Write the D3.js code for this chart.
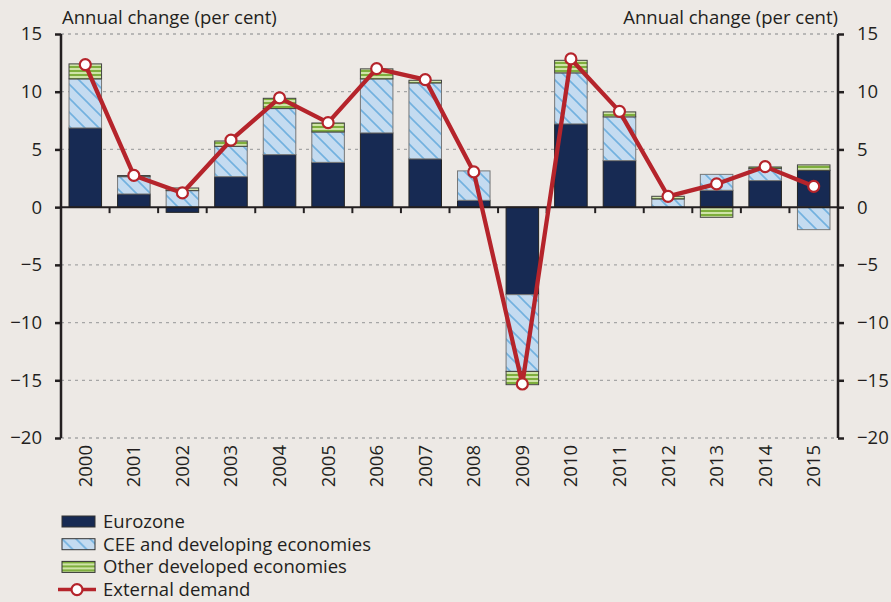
<!DOCTYPE html>
<html>
<head>
<meta charset="utf-8">
<script src="https://cdn.jsdelivr.net/npm/d3@7"></script>
<style>
  body { margin: 0; background: #ede9e5; }
  svg { display: block; font-family: 'Open Sans', sans-serif; }
</style>
</head>
<body>
<div id="chart"></div>
<script>
const years = ['2000', '2001', '2002', '2003', '2004', '2005', '2006', '2007',
  '2008', '2009', '2010', '2011', '2012', '2013', '2014', '2015'];
const eurozone = [6.86, 1.14, -0.45, 2.64, 4.55, 3.88, 6.43, 4.18, 0.59, -7.58, 7.21, 4.03, 0.0, 1.46, 2.3, 3.19];
const cee = [4.25, 1.5, 1.43, 2.63, 3.99, 2.63, 4.68, 6.58, 2.55, -6.65, 4.42, 3.79, 0.71, 1.38, 1.04, -1.95];
const otherDev = [1.3, 0.1, 0.23, 0.46, 0.89, 0.78, 0.87, 0.23, 0.0, -1.15, 1.09, 0.43, 0.23, -0.88, 0.14, 0.47];
const externalDemand = [12.35, 2.75, 1.23, 5.8, 9.46, 7.32, 12.0, 11.05, 3.05, -15.32, 12.84, 8.3, 0.94, 2.01, 3.51, 1.8];
const yTicks = [15, 10, 5, 0, -5, -10, -15, -20];
const seriesNames = ['Eurozone', 'CEE and developing economies', 'Other developed economies'];
const axisTitle = 'Annual change (per cent)';
const lineName = 'External demand';

const WIDTH = 891;
const HEIGHT = 602;
const margin = {top: 34, right: 53, bottom: 164, left: 61};
const width = WIDTH - margin.left - margin.right;
const height = HEIGHT - margin.top - margin.bottom;

const RED = '#b5242b';
const NAVY = '#172a53';
const TEXT = '#231f20';
const FONT_SIZE = 18.5;

const rows = years.map((y, i) => ({year: y, ez: eurozone[i], cee: cee[i], oth: otherDev[i]}));
const keys = ['ez', 'cee', 'oth'];

const svg = d3.select('#chart').append('svg')
  .attr('width', WIDTH)
  .attr('height', HEIGHT);

// patterns
const defs = svg.append('defs');
const pCee = defs.append('pattern')
  .attr('id', 'p-cee')
  .attr('patternUnits', 'userSpaceOnUse')
  .attr('width', 14).attr('height', 14);
pCee.append('rect').attr('width', 14).attr('height', 14).attr('fill', '#c4dbf0');
pCee.append('path')
  .attr('d', 'M-1,-1 L15,15 M-8,6 L1,15 M6,-8 L15,1')
  .attr('stroke', '#72b1df').attr('stroke-width', 1.6);

const pOth = defs.append('pattern')
  .attr('id', 'p-oth')
  .attr('patternUnits', 'userSpaceOnUse')
  .attr('width', 8).attr('height', 4);
pOth.append('rect').attr('width', 8).attr('height', 4).attr('fill', '#cfe3a8');
pOth.append('rect').attr('width', 8).attr('height', 2).attr('fill', '#7eae3d');

const fills = {ez: NAVY, cee: 'url(#p-cee)', oth: 'url(#p-oth)'};
const strokes = {ez: '#222', cee: '#777', oth: '#444'};

const g = svg.append('g')
  .attr('transform', `translate(${margin.left}, ${margin.top})`);

const x = d3.scaleBand()
  .domain(years)
  .range([0, width])
  .paddingInner(0.33)
  .paddingOuter(0.165);

const y = d3.scaleLinear()
  .domain([-20, 15])
  .range([height, 0]);

// gridlines
g.append('g')
  .selectAll('line')
  .data(yTicks.filter(d => d !== 0))
  .join('line')
  .attr('x1', 0).attr('x2', width)
  .attr('y1', d => y(d)).attr('y2', d => y(d))
  .attr('stroke', '#a6a6a6')
  .attr('stroke-width', 1.3)
  .attr('stroke-dasharray', '3,4');

// stacked bars
const stack = d3.stack().keys(keys).offset(d3.stackOffsetDiverging);
const stacked = stack(rows);

g.append('g')
  .selectAll('g')
  .data(stacked)
  .join('g')
  .attr('fill', d => fills[d.key])
  .attr('stroke', d => strokes[d.key])
  .selectAll('rect')
  .data(d => d.filter(p => p[1] !== p[0]))
  .join('rect')
  .attr('x', d => x(d.data.year))
  .attr('width', x.bandwidth())
  .attr('y', d => y(Math.max(d[0], d[1])))
  .attr('height', d => Math.abs(y(d[0]) - y(d[1])))
  .attr('stroke-width', 1);

// zero line with category ticks
g.append('line')
  .attr('x1', 0).attr('x2', width)
  .attr('y1', y(0)).attr('y2', y(0))
  .attr('stroke', '#231f20')
  .attr('stroke-width', 2);

const step = x.step();
g.append('g')
  .selectAll('line')
  .data(d3.range(1, years.length))
  .join('line')
  .attr('x1', d => d * step).attr('x2', d => d * step)
  .attr('y1', y(0)).attr('y2', y(0) + 6)
  .attr('stroke', '#231f20')
  .attr('stroke-width', 2);

// axes
const leftAxis = d3.axisLeft(y).tickValues(yTicks).tickSize(6).tickPadding(13);
const rightAxis = d3.axisRight(y).tickValues(yTicks).tickSize(6).tickPadding(13);

for (const [ax, xPos] of [[leftAxis, 0], [rightAxis, width]]) {
  const a = g.append('g')
    .attr('transform', `translate(${xPos}, 0)`)
    .call(ax);
  a.select('.domain').attr('stroke', TEXT).attr('stroke-width', 2.5)
    .attr('d', `M0,0V${height}`);
  a.selectAll('.tick line').attr('stroke', TEXT).attr('stroke-width', 2.5);
  a.selectAll('.tick text')
    .attr('fill', TEXT)
    .attr('font-size', FONT_SIZE)
    .attr('font-family', "'Open Sans', sans-serif");
}

// x labels
g.append('g')
  .selectAll('text')
  .data(years)
  .join('text')
  .attr('transform', d => `translate(${x(d) + x.bandwidth() / 2}, ${height + 7}) rotate(-90)`)
  .attr('text-anchor', 'end')
  .attr('dy', '0.35em')
  .attr('font-size', FONT_SIZE)
  .attr('fill', TEXT)
  .text(d => d);

// line + markers
const line = d3.line()
  .x((d, i) => x(years[i]) + x.bandwidth() / 2)
  .y(d => y(d));

g.append('path')
  .datum(externalDemand)
  .attr('fill', 'none')
  .attr('stroke', RED)
  .attr('stroke-width', 4.3)
  .attr('stroke-linejoin', 'round')
  .attr('d', line);

g.append('g')
  .selectAll('circle')
  .data(externalDemand)
  .join('circle')
  .attr('cx', (d, i) => x(years[i]) + x.bandwidth() / 2)
  .attr('cy', d => y(d))
  .attr('r', 5.5)
  .attr('fill', 'white')
  .attr('stroke', RED)
  .attr('stroke-width', 2.2);

// axis titles
svg.append('text')
  .attr('x', 62).attr('y', 24)
  .attr('font-size', FONT_SIZE)
  .attr('fill', TEXT)
  .text(axisTitle);

svg.append('text')
  .attr('x', 838).attr('y', 24)
  .attr('text-anchor', 'end')
  .attr('font-size', FONT_SIZE)
  .attr('fill', TEXT)
  .text(axisTitle);

// legend
const legend = svg.append('g').attr('transform', 'translate(62, 516)');
const legendRowH = 22.7;
seriesNames.forEach((name, i) => {
  const row = legend.append('g').attr('transform', `translate(0, ${i * legendRowH})`);
  row.append('rect')
    .attr('width', 33).attr('height', 11)
    .attr('fill', fills[keys[i]])
    .attr('stroke', '#333')
    .attr('stroke-width', 1);
  row.append('text')
    .attr('x', 41).attr('y', 5.5)
    .attr('dy', '0.35em')
    .attr('font-size', FONT_SIZE)
    .attr('fill', TEXT)
    .text(name);
});
const lineRow = legend.append('g').attr('transform', `translate(0, ${3 * legendRowH})`);
lineRow.append('line')
  .attr('x1', -4).attr('x2', 34)
  .attr('y1', 5.5).attr('y2', 5.5)
  .attr('stroke', RED).attr('stroke-width', 3.5);
lineRow.append('circle')
  .attr('cx', 15).attr('cy', 5.5).attr('r', 5.5)
  .attr('fill', 'white').attr('stroke', RED).attr('stroke-width', 2.2);
lineRow.append('text')
  .attr('x', 41).attr('y', 5.5)
  .attr('dy', '0.35em')
  .attr('font-size', FONT_SIZE)
  .attr('fill', TEXT)
  .text(lineName);
</script>
</body>
</html>
